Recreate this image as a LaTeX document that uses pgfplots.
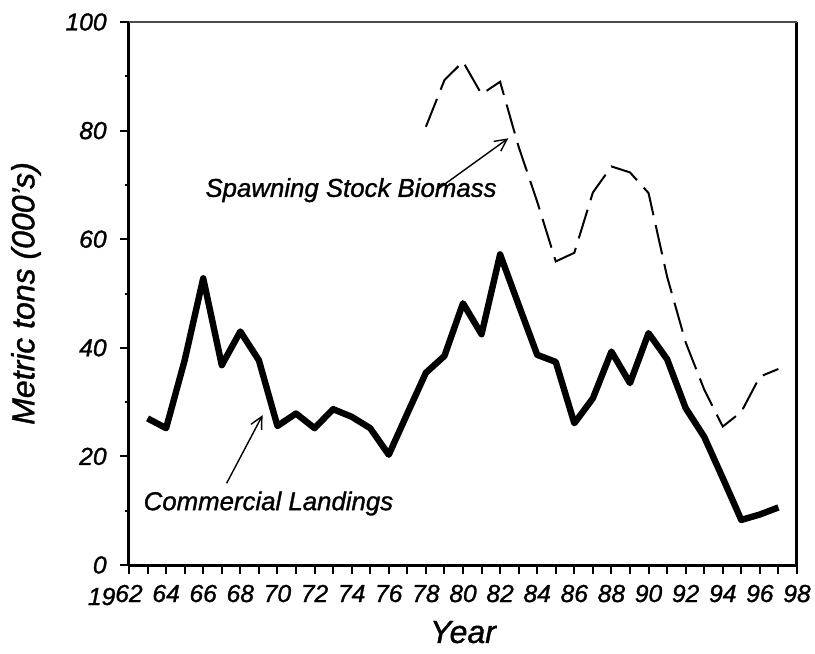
\documentclass[border=0pt]{standalone}
\usepackage{pgfplots}
\pgfplotsset{compat=1.18}
\usepackage{fontspec}
\setmainfont{Liberation Sans}[ItalicFeatures={FakeBold=1.2}]
\usetikzlibrary{arrows.meta}
\pgfplotstableread{
year val
1963 27.0
1964 25.2
1965 37.7
1966 52.8
1967 36.8
1968 43.0
1969 37.7
1970 25.6
1971 27.9
1972 25.2
1973 28.7
1974 27.3
1975 25.2
1976 20.3
1977 27.9
1978 35.4
1979 38.5
1980 48.2
1981 42.5
1982 57.2
1983 47.9
1984 38.7
1985 37.4
1986 26.1
1987 30.7
1988 39.3
1989 33.5
1990 42.7
1991 37.9
1992 28.9
1993 23.6
1994 16.0
1995 8.3
1996 9.3
1997 10.6
}\landings
\pgfplotstableread{
year val
1978 80.7
1979 89.3
1980 92.7
1981 86.7
1982 89.0
1983 77.0
1984 66.9
1985 55.9
1986 57.5
1987 68.6
1988 73.4
1989 72.3
1990 68.5
1991 53.1
1992 41.0
1993 32.3
1994 25.5
1995 28.2
1996 34.7
1997 36.1
}\ssb
\begin{document}
\begin{tikzpicture}
\path[use as bounding box] (-64.5pt,-44.5pt) rectangle (343pt,282.5pt);
\begin{axis}[
  at={(0,0)}, anchor=south west,
  scale only axis,
  width=334pt, height=271.5pt,
  xmin=1962, xmax=1998, ymin=0, ymax=100,
  axis x line=bottom, axis y line=box,
  axis line style={-, line width=1.5pt},
  ytick pos=left,
  xtick={1962,1963,...,1998},
  xticklabels={\llap{\raisebox{-1.5pt}{19}}62,,64,,66,,68,,70,,72,,74,,76,,78,,80,,82,,84,,86,,88,,90,,92,,94,,96,,98},
  ytick={0,20,...,100},
  minor ytick={10,30,...,90},
  tick align=outside,
  major tick length=4.5pt, minor tick length=2pt,
  tick style={line width=1pt, black},
  /pgf/number format/assume math mode=true,
  ticklabel style={font=\fontsize{12.3}{14}\selectfont\itshape},
  xticklabel style={anchor=base, yshift=-14pt},
  yticklabel style={anchor=east, inner sep=0pt, xshift=-6.5pt},
  xlabel={Year},
  ylabel={Metric tons (000's)},
  label style={font=\fontsize{16}{19}\selectfont\itshape},
  xlabel style={at={(axis description cs:0.5,-0.1436)}, anchor=base},
  ylabel style={at={(axis description cs:-0.1542,0.5)}, anchor=center},
  clip=false,
]
\addplot[black, line width=3.2pt, line join=round] table[x=year,y=val] {\landings};
\addplot[black, line width=1pt, dash pattern=on 15pt off 5pt] table[x=year,y=val] {\ssb};
\draw[line width=0.6pt, black!70] (rel axis cs:0,1) -- (rel axis cs:1,1);
\node[anchor=base west, inner sep=0pt, font=\fontsize{12.9}{15}\selectfont\itshape] at (axis cs:1966.10,67.8) {Spawning Stock Biomass};
\node[anchor=base west, inner sep=0pt, font=\fontsize{12.9}{15}\selectfont\itshape] at (axis cs:1962.77,10.1) {Commercial Landings};
\draw[line width=0.7pt, -{Straight Barb[length=6pt,width=6pt]}] (axis cs:1978.58,69.06) -- (axis cs:1982.44,78.58);
\draw[line width=0.7pt, -{Straight Barb[length=6pt,width=6pt]}] (axis cs:1967.26,15.05) -- (axis cs:1969.20,27.6);
\end{axis}
\end{tikzpicture}
\end{document}
